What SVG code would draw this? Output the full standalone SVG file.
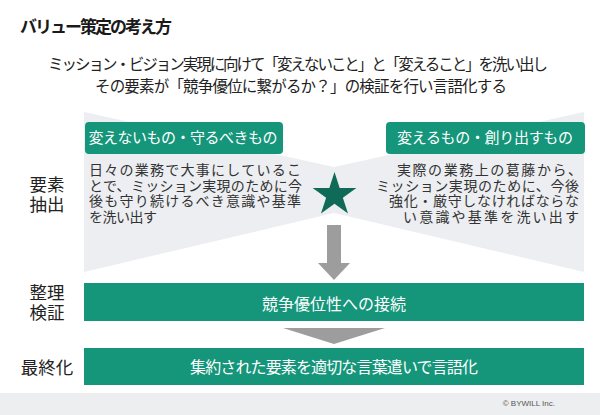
<svg xmlns="http://www.w3.org/2000/svg" width="600" height="415" viewBox="0 0 600 415">
<defs>
<style>
.jp{font-family:"Liberation Sans","Noto Sans CJK JP",sans-serif;}
.title{font-size:17px;font-weight:bold;fill:#1a1a1a;}
.sub{font-size:15.5px;fill:#222;}
.lbl{font-size:17.5px;fill:#222;}
.hdr{font-size:15px;fill:#fff;}
.body{font-size:14px;fill:#333;}
.bar{font-size:16px;fill:#fff;}
.green{fill:#15967a;}
.gray{fill:#9d9d9d;}
</style>
</defs>
<rect x="0" y="0" width="600" height="415" fill="#ffffff"/>
<g id="title">
<text class="jp title" x="20" y="33" textLength="152">バリュー策定の考え方</text>
</g>
<g id="subtitle">
<text class="jp sub" text-anchor="middle"><tspan x="298" y="70" textLength="500">ミッション・ビジョン実現に向けて「変えないこと」と「変えること」を洗い出し</tspan><tspan x="301" y="92" textLength="412">その要素が「競争優位に繋がるか？」の検証を行い言語化する</tspan></text>
</g>
<g id="background">
<polygon points="84,112 334,167 584,112 584,272 334,213 84,272" fill="#eceef1"/>
</g>
<g id="stage-labels">
<text class="jp lbl" text-anchor="middle"><tspan x="47" y="191">要素</tspan><tspan x="47" y="211">抽出</tspan></text>
<text class="jp lbl" text-anchor="middle"><tspan x="47" y="299">整理</tspan><tspan x="47" y="319">検証</tspan></text>
<text class="jp lbl" x="47" y="374" text-anchor="middle">最終化</text>
</g>
<g id="keep">
<rect class="green" x="85" y="122" width="198" height="32" rx="4"/>
<text class="jp hdr" x="183" y="143" text-anchor="middle" textLength="189">変えないもの・守るべきもの</text>
<text class="jp body"><tspan x="89" y="175" textLength="212">日々の業務で大事にしているこ</tspan><tspan x="89" y="190.7" textLength="213">とで、ミッション実現のために今</tspan><tspan x="89" y="206.4" textLength="212">後も守り続けるべき意識や基準</tspan><tspan x="89" y="222.1" textLength="68">を洗い出す</tspan></text>
</g>
<g id="change">
<rect class="green" x="386" y="122" width="199" height="32" rx="4"/>
<text class="jp hdr" x="485" y="143" text-anchor="middle" textLength="176">変えるもの・創り出すもの</text>
<text class="jp body" text-anchor="end"><tspan x="582" y="175" textLength="185">実際の業務上の葛藤から、</tspan><tspan x="579" y="190.7" textLength="203">ミッション実現のために、今後</tspan><tspan x="579" y="206.4" textLength="190">強化・厳守しなければならな</tspan><tspan x="579" y="222.1" textLength="176">い意識や基準を洗い出す</tspan></text>
</g>
<g id="star">
<polygon points="334.5,172 339.67,187.89 356.37,187.89 342.86,197.72 348.02,213.61 334.5,203.79 320.98,213.61 326.14,197.72 312.63,187.89 329.33,187.89" fill="#0f6b57"/>
</g>
<g id="connectors">
<rect class="gray" x="327" y="225" width="14" height="39"/>
<polygon class="gray" points="318,263 350,263 334,280"/>
<polygon class="gray" points="283,328 385,328 334,344"/>
</g>
<g id="connect-advantage">
<rect class="green" x="84" y="283" width="500" height="38"/>
<text class="jp bar" x="334" y="310" text-anchor="middle">競争優位性への接続</text>
</g>
<g id="verbalize">
<rect class="green" x="84" y="348" width="500" height="37"/>
<text class="jp bar" x="334" y="373" text-anchor="middle" textLength="288">集約された要素を適切な言葉遣いで言語化</text>
</g>
<g id="footer">
<rect x="0" y="393" width="600" height="22" fill="#eceef0"/>
<text x="555" y="406" text-anchor="end" font-family="'Liberation Sans',Arial,sans-serif" font-size="8" fill="#555">© BYWILL Inc.</text>
</g>
</svg>
